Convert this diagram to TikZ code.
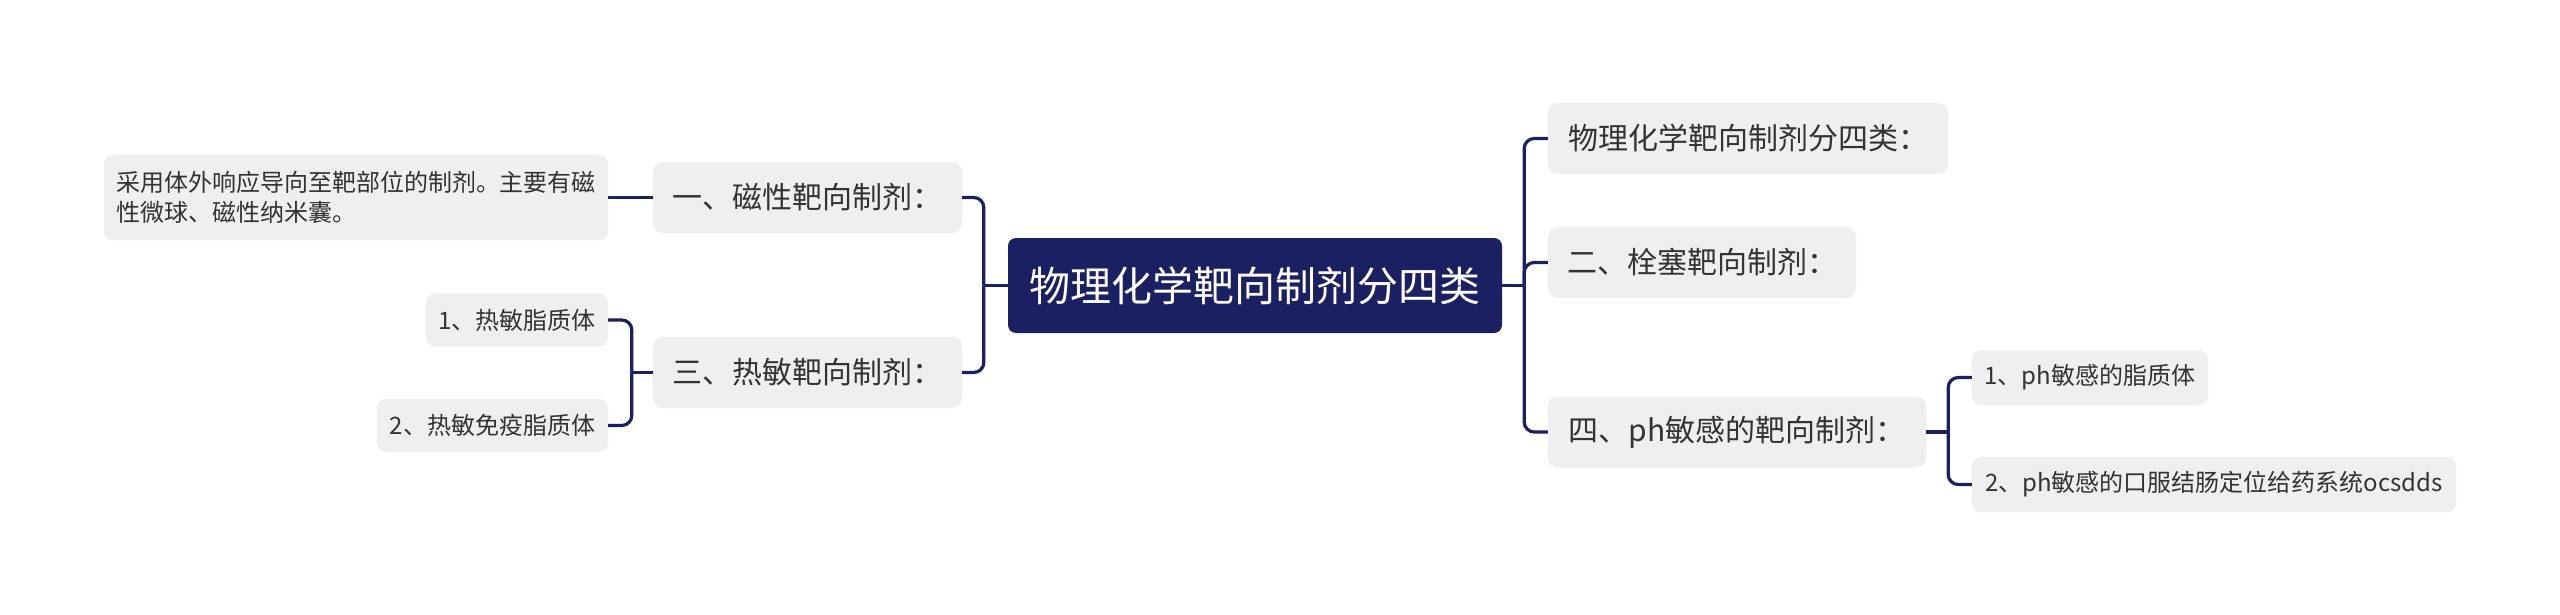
\documentclass[tikz,border=0pt]{standalone}
\usepackage{fontspec}
\setmainfont{Noto Sans CJK SC}
\usetikzlibrary{calc}
\definecolor{navy}{HTML}{1B2062}
\definecolor{boxgray}{HTML}{EFEFEF}
\definecolor{txt}{HTML}{333333}
\tikzset{
  rootbox/.style={fill=navy, text=white, rounded corners=8pt, inner sep=0pt,
    font=\fontsize{41}{48}\selectfont, minimum height=95pt},
  midbox/.style={fill=boxgray, text=txt, rounded corners=10pt, inner sep=0pt,
    font=\fontsize{30}{36}\selectfont, minimum height=71pt},
  leafbox/.style={fill=boxgray, text=txt, rounded corners=9pt, inner sep=0pt,
    font=\fontsize{24}{30}\selectfont, minimum height=53pt},
  conn/.style={draw=navy, line width=3.2pt},
  curvedconn/.style={conn, rounded corners=10pt},
}
\begin{document}
\begin{tikzpicture}[x=1pt,y=-1pt]
\useasboundingbox[fill=white] (0,0) rectangle (2560,615);
% root
\node[rootbox, minimum width=494pt] (root) at (1255,285.5) {物理化学靶向制剂分四类};
% left side
\node[midbox, minimum width=309pt] (a1) at (807.5,197.5) {一、磁性靶向制剂：};
\node[midbox, minimum width=309pt] (a3) at (807.5,372.5) {三、热敏靶向制剂：};
\node[leafbox, minimum width=504pt, minimum height=85pt, align=left] (l1) at (356,197.5)
  {采用体外响应导向至靶部位的制剂。主要有磁\\性微球、磁性纳米囊。};
\node[leafbox, minimum width=182pt] (t1) at (517,320) {1、热敏脂质体};
\node[leafbox, minimum width=231pt] (t2) at (492.5,425.5) {2、热敏免疫脂质体};
% right side
\node[midbox, minimum width=400pt] (b1) at (1748,138.5) {物理化学靶向制剂分四类：};
\node[midbox, minimum width=308pt] (b2) at (1702,262.5) {二、栓塞靶向制剂：};
\node[midbox, minimum width=378pt] (b4) at (1737,432) {四、ph敏感的靶向制剂：};
\node[leafbox, minimum width=236pt, minimum height=55pt] (p1) at (2090,377.5) {1、ph敏感的脂质体};
\node[leafbox, minimum width=484pt, minimum height=55pt] (p2) at (2214,484.5) {2、ph敏感的口服结肠定位给药系统ocsdds};
% junctions
\coordinate (jl) at ($(root.west)+(-24,0)$);
\coordinate (jr) at ($(root.east)+(22,0)$);
\coordinate (j3) at ($(a3.west)+(-21,0)$);
\coordinate (j4) at ($(b4.east)+(22,0)$);
% connectors
\draw[conn] (root.west) -- (jl);
\draw[curvedconn] (jl) |- (a1.east);
\draw[curvedconn] (jl) |- (a3.east);
\draw[conn] (a1.west) -- (l1.east);
\draw[conn] (a3.west) -- (j3);
\draw[curvedconn] (j3) |- (t1.east);
\draw[curvedconn] (j3) |- (t2.east);
\draw[conn] (root.east) -- (jr);
\draw[curvedconn] (jr) |- (b1.west);
\draw[curvedconn] (jr) |- (b2.west);
\draw[curvedconn] (jr) |- (b4.west);
\draw[conn] (b4.east) -- (j4);
\draw[curvedconn] (j4) |- (p1.west);
\draw[curvedconn] (j4) |- (p2.west);
\end{tikzpicture}
\end{document}
